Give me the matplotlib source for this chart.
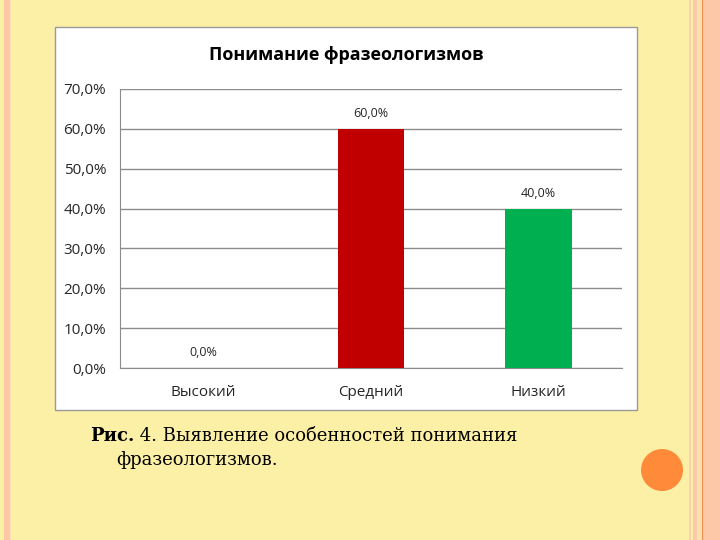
import matplotlib.pyplot as plt
from matplotlib.patches import Rectangle, Ellipse
from matplotlib.ticker import FuncFormatter

# data
categories = ["Высокий", "Средний", "Низкий"]
values = [0.0, 0.60, 0.40]
bar_colors = ["#C00000", "#C00000", "#00B050"]
title = "Понимание фразеологизмов"
caption_bold = "Рис."
caption_rest = " 4. Выявление особенностей понимания"
caption_line2 = "фразеологизмов."

W, H = 720.0, 540.0
fig = plt.figure(figsize=(7.2, 5.4), dpi=100)
fig.patch.set_facecolor("#FCEFA6")

def box(x0, x1, color, y0=0, y1=540, z=0):
    fig.patches.append(Rectangle((x0 / W, 1 - y1 / H), (x1 - x0) / W, (y1 - y0) / H,
                                 transform=fig.transFigure, facecolor=color,
                                 edgecolor="none", zorder=z))

# border stripes
box(4, 10, "#FCC8A8")
box(10, 11, "#FDE0B8")
box(689, 691, "#FCD3AE")
box(693, 696.5, "#FCC8A8")
box(696.5, 701.5, "#FDE2B0")
box(701.5, 703, "#F08A4E")
box(703, 720, "#FCC8A8")

# chart frame
fig.patches.append(Rectangle((55 / W, 1 - 410 / H), 582 / W, 383 / H,
                             transform=fig.transFigure, facecolor="white",
                             edgecolor="#9A9A9A", linewidth=1.0, zorder=1))

# orange circle
fig.patches.append(Ellipse((662 / W, 1 - 470 / H), 42 / W, 42 / H, transform=fig.transFigure,
                           facecolor="#FF8A3A", edgecolor="none", zorder=1))

ax = fig.add_axes([120 / W, 1 - 368 / H, 502 / W, 279 / H])
ax.set_zorder(2)
ax.set_facecolor("none")
x = list(range(len(categories)))
ax.bar(x, values, width=0.4, color=bar_colors, zorder=3)
ax.set_xlim(-0.5, 2.5)
ax.set_ylim(0, 0.7)
ax.set_yticks([i / 10 for i in range(8)])
ax.yaxis.set_major_formatter(FuncFormatter(lambda v, p: f"{v*100:.1f}%".replace(".", ",")))
ax.grid(axis="y", color="#8C8C8C", linewidth=1.0, zorder=0)
for s in ["top", "right"]:
    ax.spines[s].set_visible(False)
for s in ["left", "bottom"]:
    ax.spines[s].set_color("#8C8C8C")
ax.tick_params(axis="y", length=0, pad=10, labelsize=11, colors="#262626")
ax.tick_params(axis="x", length=0, pad=12, labelsize=11, colors="#262626")
ax.set_xticks(x)
ax.set_xticklabels(categories)
for lab in ax.get_xticklabels() + ax.get_yticklabels():
    lab.set_fontfamily("Open Sans")

for xi, v in zip(x, values):
    ax.annotate(f"{v*100:.1f}%".replace(".", ","), (xi, v), xytext=(0, 6.5),
                textcoords="offset points", ha="center", va="bottom",
                fontsize=9, color="#262626", fontfamily="Open Sans")

fig.text(346 / W, 1 - 55 / H, title, ha="center", va="center", fontsize=13,
         fontweight="bold", fontfamily="Open Sans", color="black", zorder=3)

t1 = fig.text(90 / W, 1 - 436 / H, caption_bold, ha="left", va="center", fontsize=13,
              fontweight="bold", fontfamily="DejaVu Serif", color="black")
fig.canvas.draw()
bb = t1.get_window_extent()
fig.text(bb.x1 / W, 1 - 436 / H, caption_rest, ha="left", va="center", fontsize=13,
         fontfamily="DejaVu Serif", color="black")
fig.text(116 / W, 1 - 460 / H, caption_line2, ha="left", va="center", fontsize=13,
         fontfamily="DejaVu Serif", color="black")

fig.savefig("out.png", dpi=100, facecolor=fig.get_facecolor())
